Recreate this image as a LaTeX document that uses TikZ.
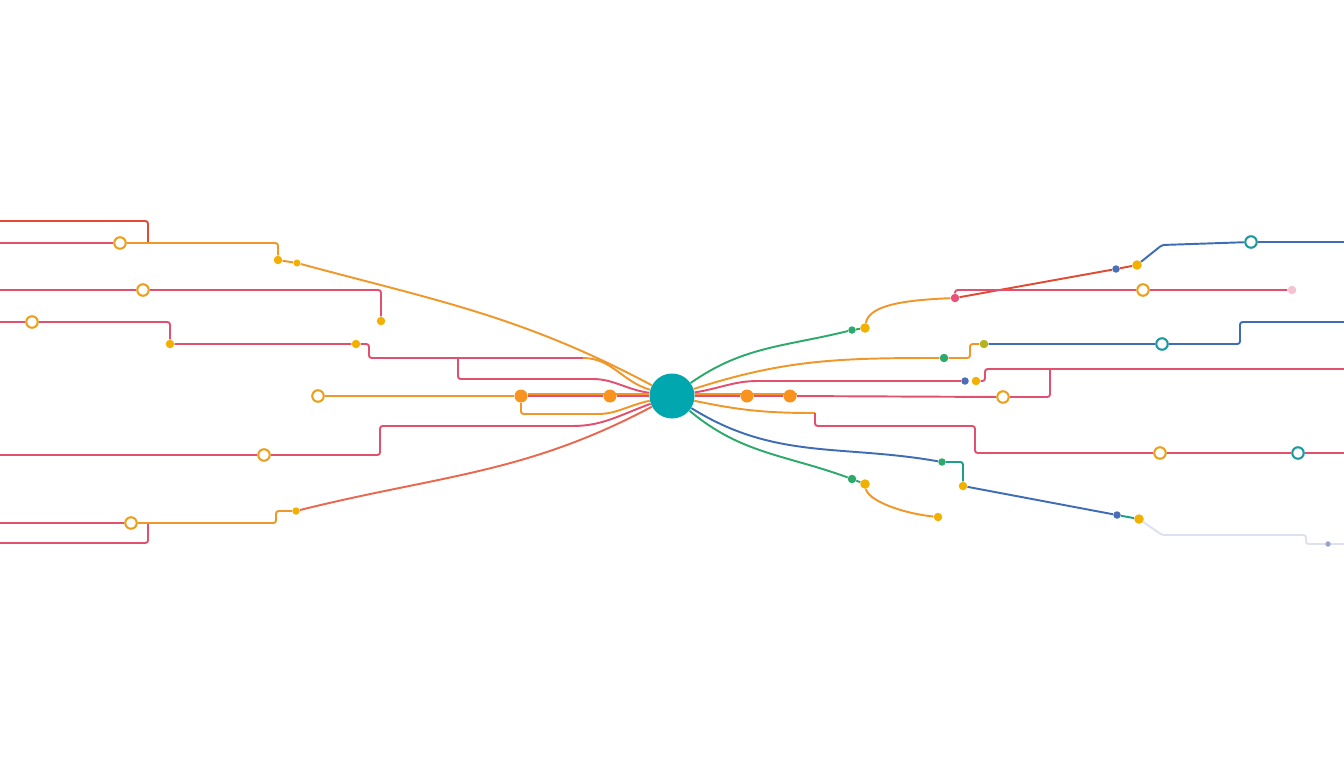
\documentclass[tikz,border=0pt]{standalone}
\usepackage{xcolor}
\usepackage{tikz}
\usetikzlibrary{backgrounds}

\definecolor{hubteal}{HTML}{00A7AE}
\definecolor{linepink}{HTML}{E2506F}
\definecolor{lineorange}{HTML}{F0972A}
\definecolor{linered}{HTML}{E04B32}
\definecolor{linecoral}{HTML}{E9684F}
\definecolor{linegreen}{HTML}{2DAA6B}
\definecolor{lineblue}{HTML}{3F6DB3}
\definecolor{lineteal}{HTML}{1E9E8A}
\definecolor{linelav}{HTML}{DDE0EF}
\definecolor{dotyellow}{HTML}{F2B100}
\definecolor{dotorange}{HTML}{F7931E}
\definecolor{dotgreen}{HTML}{2DAA6B}
\definecolor{dotblue}{HTML}{4A6FB5}
\definecolor{dotpink}{HTML}{E8507A}
\definecolor{dotlightpink}{HTML}{F4C3CF}
\definecolor{dotolive}{HTML}{B5B21E}
\definecolor{dotlav}{HTML}{9AA3CC}
\definecolor{ringorange}{HTML}{E9A11E}
\definecolor{ringteal}{HTML}{1C9A9E}

\begin{document}
\begin{tikzpicture}[
  x=0.02cm, y=-0.02cm,
  wire/.style={line width=1.1pt, rounded corners=1.5pt},
  dot/.style={circle, fill=#1, inner sep=0pt, minimum size=0.17cm},
  bigdot/.style={circle, fill=dotorange, inner sep=0pt, minimum size=0.26cm},
  ring/.style={circle, draw=#1, line width=1.2pt, fill=white, inner sep=0pt,
    minimum size=0.23cm},
  hubnode/.style={circle, fill=hubteal, inner sep=0pt, minimum size=0.9cm}
]
\useasboundingbox (0,0) rectangle (1344,768);

\node[hubnode] (hub) at (672,396) {};

\coordinate (la1) at (0,221);
\coordinate (la2) at (0,243);
\node[ring=ringorange] (lc1) at (120,243) {};
\coordinate (lk1) at (148,243);
\node[dot=dotyellow] (ld1) at (278,260) {};
\node[dot=dotyellow, minimum size=0.14cm] (ld2) at (297,263) {};
\coordinate (la3) at (0,290);
\node[ring=ringorange] (lc2) at (143,290) {};
\node[dot=dotyellow] (ld3) at (381,321) {};
\coordinate (la4) at (0,322);
\node[ring=ringorange] (lc3) at (32,322) {};
\node[dot=dotyellow] (ld4) at (170,344) {};
\node[dot=dotyellow] (ld5) at (356,344) {};
\coordinate (lk3) at (458,358);
\coordinate (lk4) at (583,358);
\node[ring=ringorange] (lc4) at (318,396) {};
\node[bigdot] (le1) at (521,396) {};
\node[bigdot] (le2) at (610,396) {};
\coordinate (la5) at (0,455);
\node[ring=ringorange] (lc5) at (264,455) {};
\coordinate (la6) at (0,523);
\node[ring=ringorange] (lc6) at (131,523) {};
\coordinate (la7) at (0,543);
\coordinate (lk6) at (148,523);
\node[dot=dotyellow, minimum size=0.15cm] (ld6) at (296,511) {};

\node[dot=dotgreen, minimum size=0.15cm] (rg1) at (852,330) {};
\node[dot=dotyellow, minimum size=0.19cm] (ry1) at (865,328) {};
\node[dot=dotpink] (rp1) at (955,298) {};
\node[dot=dotblue, minimum size=0.15cm] (rb1) at (1116,269) {};
\node[dot=dotyellow, minimum size=0.19cm] (ry2) at (1137,265) {};
\node[ring=ringteal] (rc1) at (1251,242) {};
\coordinate (re1) at (1344,242);
\node[ring=ringorange] (rc2) at (1143,290) {};
\node[dot=dotlightpink] (rl1) at (1292,290) {};
\node[dot=dotgreen] (rg2) at (944,358) {};
\node[dot=dotolive] (ro1) at (984,344) {};
\node[ring=ringteal] (rc3) at (1162,344) {};
\coordinate (re2) at (1344,322);
\node[dot=dotblue, minimum size=0.15cm] (rb2) at (965,381) {};
\node[dot=dotyellow] (ry3) at (976,381) {};
\coordinate (re3) at (1344,369);
\node[bigdot] (rd1) at (747,396) {};
\node[bigdot] (rd2) at (790,396) {};
\node[ring=ringorange] (rc4) at (1003,397) {};
\coordinate (rk5) at (815,413);
\node[ring=ringorange] (rc5) at (1160,453) {};
\node[ring=ringteal] (rc6) at (1298,453) {};
\coordinate (re5) at (1344,453);
\node[dot=dotgreen, minimum size=0.15cm] (rg3) at (942,462) {};
\node[dot=dotyellow] (ry4) at (963,486) {};
\node[dot=dotblue, minimum size=0.15cm] (rb3) at (1117,515) {};
\node[dot=dotyellow, minimum size=0.19cm] (ry5) at (1139,519) {};
\node[dot=dotlav, minimum size=0.11cm] (rv1) at (1328,544) {};
\coordinate (re6) at (1344,544);
\node[dot=dotgreen] (rg4) at (852,479) {};
\node[dot=dotyellow, minimum size=0.19cm] (ry6) at (865,484) {};
\node[dot=dotyellow] (ry7) at (938,517) {};

\begin{scope}[on background layer]
\fill[white] (0,0) rectangle (1344,768);
\draw[wire, linered] (la1) -| (lk1);
\draw[wire, linepink] (la2) -- (lc1);
\draw[wire, lineorange] (lc1) -| (ld1);
\draw[wire, lineorange] (ld1) -- (ld2);
\draw[wire, lineorange] (ld2) to[out=-15,in=152] (hub);
\draw[wire, linepink] (la3) -- (lc2) -| (ld3);
\draw[wire, linepink] (la4) -- (lc3) -| (ld4) -- (ld5) -- ++(13,0) |- (lk3) -- (lk4);
\draw[wire, lineorange] (lk4) to[out=0,in=164] (hub);
\draw[wire, linepink] (lk3) |- (590,379) to[out=0,in=172] (hub);
\draw[wire, lineorange] (lc4) -- (le1);
\draw[wire, lineorange] ([yshift=1.2pt]le1.east) -- ([yshift=1.2pt]hub.west);
\draw[wire, linepink] (le1) -- (le2) -- (hub);
\draw[wire, lineorange] (le1) |- (595,414) to[out=0,in=192] (hub);
\draw[wire, linepink] (la5) -- (lc5) -- (380,455) |- (570,426) to[out=0,in=200] (hub);
\draw[wire, linepink] (la6) -- (lc6);
\draw[wire, linepink] (la7) -| (lk6);
\draw[wire, lineorange] (lc6) -- (276,523) |- (ld6);
\draw[wire, linecoral] (ld6) to[out=14,in=208] (hub);

\draw[wire, linegreen] (hub) to[out=35,in=194] (rg1);
\draw[wire, linegreen] (rg1) -- (ry1);
\draw[wire, lineorange] (ry1) .. controls (869,305) and (905,300) .. (rp1);
\draw[wire, linered] (rp1) -- (rb1) -- (ry2);
\draw[wire, lineblue] (ry2) -- (1162,245) -- (rc1) -- (re1);
\draw[wire, linepink] (rp1) |- (rc2) -- (rl1);
\draw[wire, lineorange] (hub) to[out=18,in=180] (rg2);
\draw[wire, lineorange] (rg2) -- (970,358) |- (ro1);
\draw[wire, lineblue] (ro1) -- (rc3) -| (1240,322) -- (re2);
\draw[wire, linepink] (hub) to[out=9,in=180] (760,381) -- (rb2);
\draw[wire, linepink] (ry3) -| (985,369) -- (re3);
\draw[wire, lineorange] ([yshift=1.2pt]hub.east) -- ([yshift=1.2pt]rd2.east);
\draw[wire, linepink] (hub) -- (rd1) -- (rd2) -- (rc4) -| (1050,369);
\draw[wire, lineorange] (hub) to[out=-12,in=180] (rk5);
\draw[wire, linepink] (rk5) |- (975,426) |- (rc5) -- (rc6) -- (re5);
\draw[wire, lineblue] (hub) to[out=-32,in=170] (rg3);
\draw[wire, lineteal] (rg3) -| (ry4);
\draw[wire, lineblue] (ry4) -- (rb3);
\draw[wire, lineteal] (rb3) -- (ry5);
\draw[wire, linelav] (ry5) -- (1162,535) -| (1306,544) -- (rv1) -- (re6);
\draw[wire, linegreen] (hub) to[out=-40,in=160] (rg4);
\draw[wire, linegreen] (rg4) -- (ry6);
\draw[wire, lineorange] (ry6) .. controls (868,500) and (900,513) .. (ry7);
\end{scope}
\end{tikzpicture}
\end{document}
